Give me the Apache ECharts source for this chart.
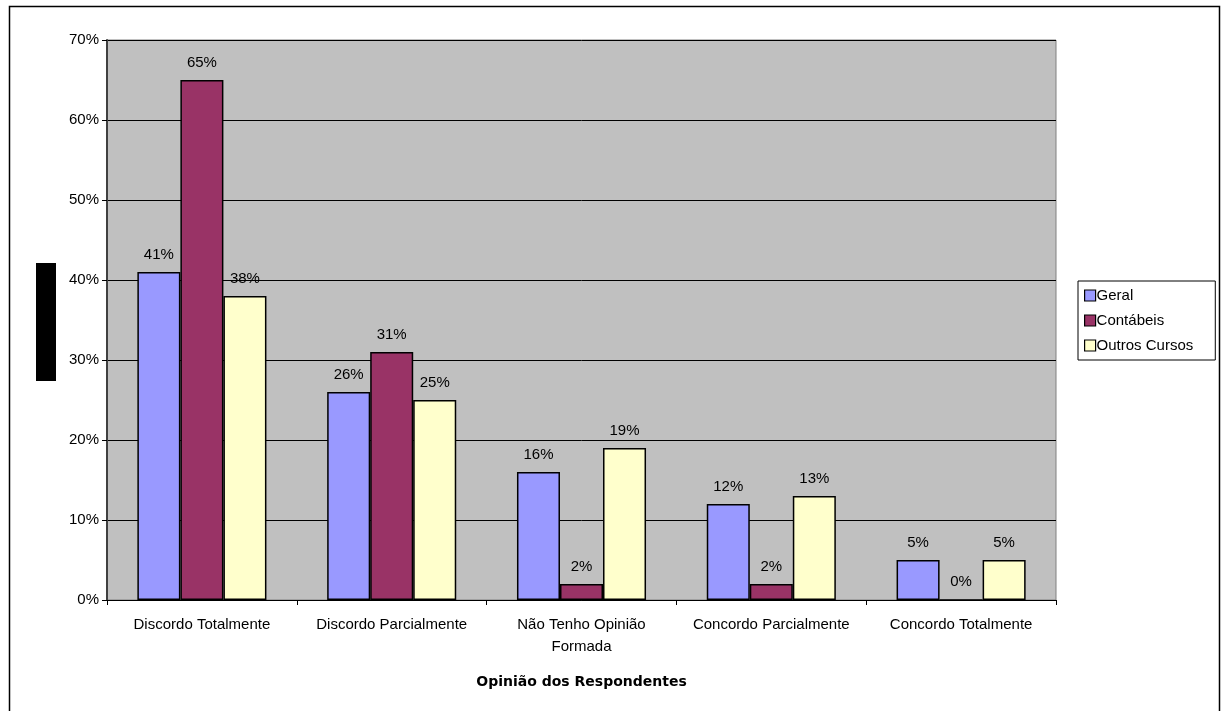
<!DOCTYPE html>
<html><head><meta charset="utf-8">
<script src="https://cdn.jsdelivr.net/npm/echarts@6/dist/echarts.min.js"></script>
<style>html,body{margin:0;padding:0;background:#fff}#c{width:1223px;height:711px}</style>
</head><body><div id="c"></div>
<script>
const categories = ['Discordo Totalmente','Discordo Parcialmente','Não Tenho Opinião\nFormada','Concordo Parcialmente','Concordo Totalmente'];
const seriesNames = ['Geral','Contábeis','Outros Cursos'];
const geral = [41,26,16,12,5];
const contabeis = [65,31,2,2,0];
const outros = [38,25,19,13,5];
const yTicks = [0,10,20,30,40,50,60,70];
const colors = ['#9999FF','#993366','#FFFFCC'];
const font = 'Liberation Sans, Arial, sans-serif';
const chart = echarts.init(document.getElementById('c'));
const mk = (name, data, color) => ({
  name, type:'bar', data, barGap:'0%', barCategoryGap:'32%',
  itemStyle:{color, borderColor:'#000', borderWidth:1.5},
  label:{show:true, position:'top', distance:10, formatter:'{c}%', color:'#000', fontSize:15, fontFamily:font}
});
chart.setOption({
  animation:false,
  textStyle:{fontFamily:font},
  grid:{left:107, right:167, top:40, bottom:111, show:true, backgroundColor:'#C0C0C0', borderColor:'#808080', borderWidth:1},
  legend:{orient:'vertical', left:1078, top:281, width:134, padding:[7,22,7,6], itemGap:10, itemWidth:11, itemHeight:11,
    icon:'rect',
    borderColor:'#000', borderWidth:1, backgroundColor:'#fff',
    textStyle:{fontSize:15, color:'#000', fontFamily:font, padding:[0,0,0,-4]},
    data:seriesNames.map(n=>({name:n, itemStyle:{borderColor:'#000', borderWidth:1.2}}))},
  xAxis:{type:'category', data:categories,
    axisLine:{lineStyle:{color:'#000', width:1}},
    axisTick:{show:true, length:5, lineStyle:{color:'#000'}},
    axisLabel:{fontSize:15, color:'#000', margin:14, lineHeight:22, interval:0},
    name:'Opinião dos Respondentes', nameLocation:'middle', nameGap:75,
    nameTextStyle:{fontSize:14, fontWeight:'bold', color:'#000', fontFamily:'DejaVu Sans, sans-serif'}},
  yAxis:{type:'value', min:0, max:70, interval:10,
    axisLine:{show:true, lineStyle:{color:'#404040', width:2}},
    axisTick:{show:true, length:5, lineStyle:{color:'#000'}},
    axisLabel:{fontSize:15, color:'#000', margin:8, formatter:v=>yTicks.includes(v)?v+'%':''},
    splitLine:{lineStyle:{color:'#000', width:1}}},
  graphic:[
    {type:'rect', shape:{x:9.5, y:6.5, width:1210, height:720}, style:{fill:'none', stroke:'#000', lineWidth:1.5}, z:-1},
    {type:'rect', shape:{x:36, y:263, width:20, height:118}, style:{fill:'#000'}}
  ],
  series:[mk(seriesNames[0], geral, colors[0]), mk(seriesNames[1], contabeis, colors[1]), mk(seriesNames[2], outros, colors[2])]
});
</script></body></html>
